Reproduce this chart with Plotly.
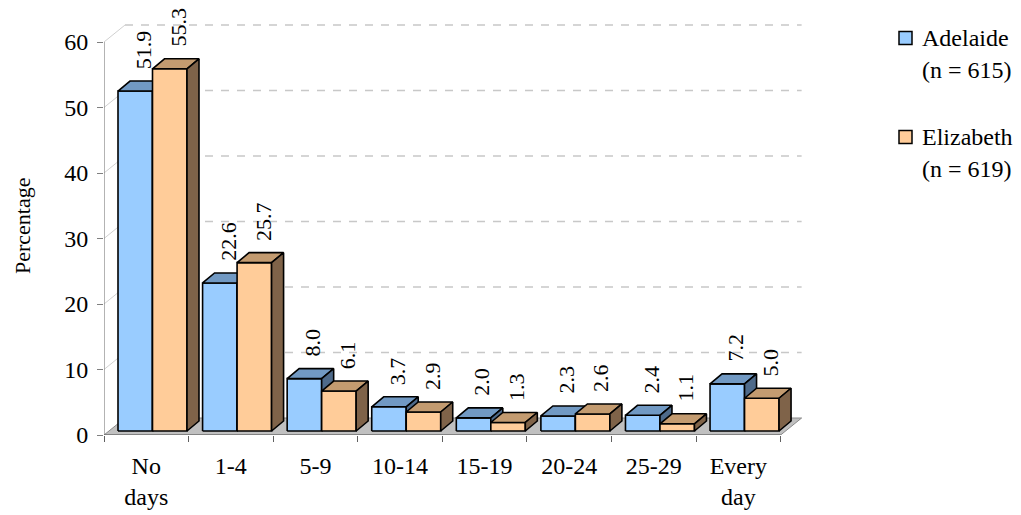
import plotly.graph_objects as go

# ---- data ----
categories = ["No<br>days", "1-4", "5-9", "10-14", "15-19", "20-24", "25-29", "Every<br>day"]
adelaide = [51.9, 22.6, 8.0, 3.7, 2.0, 2.3, 2.4, 7.2]
elizabeth = [55.3, 25.7, 6.1, 2.9, 1.3, 2.6, 1.1, 5.0]
series_names = ["Adelaide", "Elizabeth"]
series_n = [615, 619]
y_ticks = [0, 10, 20, 30, 40, 50, 60]

# ---- canvas / plot area ----
W, H = 1021, 515
ML, MR, MT, MB = 104, 215, 10, 80
X_MAX = 8.3
PLOT_W = W - ML - MR
PLOT_H = H - MT - MB
PX_X = PLOT_W / X_MAX          # pixels per category slot
PX_Y = 393 / 60.0              # pixels per percentage point
Y_MAX = PLOT_H / PX_Y


def ux(px):
    return px / PX_X


def uy(px):
    return px / PX_Y


# pseudo-3D geometry (screen pixels converted to axis units)
BAR_W = ux(34.5)
BAR_OFF = ux(14.0)
BASE = uy(4.0)
DEPTH_X, DEPTH_Y = ux(12.0), uy(10.0)
WALL_X, WALL_Y = ux(21.0), uy(17.0)

FONT = "Liberation Serif"
styles = [
    dict(front="#99CCFF", top="#7199C3", side="#4E6A8A"),
    dict(front="#FFCC99", top="#C39B70", side="#7F6349"),
]
OUTLINE = dict(color="black", width=1.6)

n_cat = len(categories)
fig = go.Figure()

# floor
fx = [0, n_cat, n_cat + WALL_X, WALL_X, 0]
fy = [0, 0, WALL_Y, WALL_Y, 0]
fig.add_trace(go.Scatter(x=fx, y=fy, mode="lines", fill="toself",
                         fillcolor="#C0C0C0", line=dict(color="#8A8A8A", width=1),
                         hoverinfo="skip", showlegend=False))


def poly_trace(polys, color):
    xs, ys = [], []
    for p in polys:
        for (a, b) in p:
            xs.append(a)
            ys.append(b)
        xs.append(None)
        ys.append(None)
    return go.Scatter(x=xs, y=ys, mode="lines", fill="toself", fillcolor=color,
                      line=OUTLINE, hoverinfo="skip", showlegend=False)


annotations = []
for s, values in enumerate([adelaide, elizabeth]):
    fronts, tops, sides = [], [], []
    for i, v in enumerate(values):
        x0 = i + BAR_OFF + s * BAR_W
        x1 = x0 + BAR_W
        y0 = BASE
        y1 = BASE + v
        fronts.append([(x0, y0), (x1, y0), (x1, y1), (x0, y1), (x0, y0)])
        tops.append([(x0, y1), (x1, y1), (x1 + DEPTH_X, y1 + DEPTH_Y),
                     (x0 + DEPTH_X, y1 + DEPTH_Y), (x0, y1)])
        sides.append([(x1, y0), (x1 + DEPTH_X, y0 + DEPTH_Y),
                      (x1 + DEPTH_X, y1 + DEPTH_Y), (x1, y1), (x1, y0)])
        annotations.append(dict(
            x=x0 + BAR_W / 2 + DEPTH_X * 0.7, y=y1 + DEPTH_Y, xref="x", yref="y",
            text=f"{v:.1f}", textangle=-90, showarrow=False,
            xanchor="center", yanchor="bottom", yshift=10,
            font=dict(family=FONT, size=22, color="black")))
    fig.add_trace(poly_trace(fronts, styles[s]["front"]))
    fig.add_trace(poly_trace(tops, styles[s]["top"]))
    fig.add_trace(poly_trace(sides, styles[s]["side"]))

shapes = []
# back-wall dashed gridlines and side-wall diagonals
for v in y_ticks[1:]:
    shapes.append(dict(type="line", xref="x", yref="y", layer="below",
                       x0=WALL_X, y0=v + WALL_Y, x1=n_cat + WALL_X, y1=v + WALL_Y,
                       line=dict(color="#C8C8C8", width=1.5, dash="8px,8px")))
    shapes.append(dict(type="line", xref="x", yref="y", layer="below",
                       x0=0, y0=v, x1=WALL_X, y1=v + WALL_Y,
                       line=dict(color="#D0D0D0", width=1)))
# axis lines
shapes.append(dict(type="line", xref="x", yref="y", x0=0, y0=0, x1=0, y1=y_ticks[-1],
                   line=dict(color="#808080", width=1.2)))
shapes.append(dict(type="line", xref="x", yref="y", x0=0, y0=0, x1=n_cat, y1=0,
                   line=dict(color="#606060", width=1.2)))


# legend drawn in paper coordinates
def paper_x(px):
    return (px - ML) / PLOT_W


def paper_y(py):
    return (H - MB - py) / PLOT_H


legend_rows = [(38, 70), (137, 169)]
for s, name in enumerate(series_names):
    r1, r2 = legend_rows[s]
    shapes.append(dict(type="rect", xref="paper", yref="paper",
                       x0=paper_x(899), x1=paper_x(912), y0=paper_y(r1 - 6.5), y1=paper_y(r1 + 6.5),
                       fillcolor=styles[s]["front"], line=dict(color="black", width=1.5)))
    annotations.append(dict(x=paper_x(920), y=paper_y(r1), xref="paper", yref="paper",
                            text=name, showarrow=False, xanchor="left", yanchor="middle",
                            font=dict(family=FONT, size=24, color="black")))
    annotations.append(dict(x=paper_x(920), y=paper_y(r2), xref="paper", yref="paper",
                            text=f"(n = {series_n[s]})", showarrow=False,
                            xanchor="left", yanchor="middle",
                            font=dict(family=FONT, size=24, color="black")))

# y-axis title
annotations.append(dict(x=paper_x(22), y=paper_y(226), xref="paper", yref="paper",
                        text="Percentage", textangle=-90, showarrow=False,
                        xanchor="center", yanchor="middle",
                        font=dict(family=FONT, size=22, color="black")))

fig.update_layout(
    width=W, height=H,
    margin=dict(l=ML, r=MR, t=MT, b=MB, pad=0, autoexpand=False),
    plot_bgcolor="white", paper_bgcolor="white",
    showlegend=False,
    shapes=shapes,
    annotations=annotations,
    xaxis=dict(range=[0, X_MAX], showgrid=False, zeroline=False, showline=False,
               tickvals=[i + 0.5 for i in range(n_cat)], ticktext=categories,
               ticks="", ticklabelstandoff=14, automargin=False,
               tickfont=dict(family=FONT, size=24, color="black"),
               minor=dict(tickvals=list(range(n_cat + 1)), ticks="outside",
                          ticklen=6, tickcolor="#606060", tickwidth=1.2, showgrid=False),
               fixedrange=True),
    yaxis=dict(range=[0, Y_MAX], showgrid=False, zeroline=False, showline=False,
               tickvals=y_ticks, ticks="outside", ticklen=6, tickcolor="#808080",
               tickwidth=1.2, ticklabelstandoff=4, automargin=False,
               tickfont=dict(family=FONT, size=24, color="black"),
               fixedrange=True),
)

fig.write_html("out.html")
